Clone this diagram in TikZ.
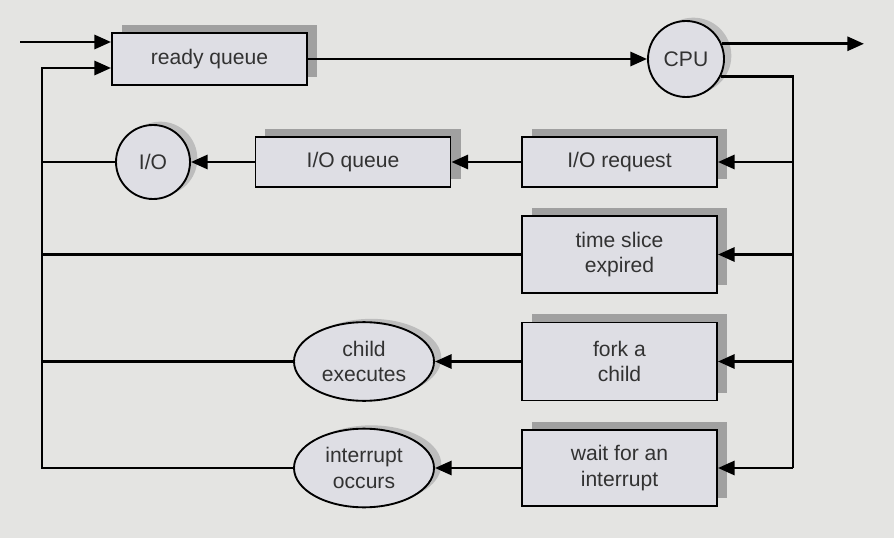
\documentclass[tikz,border=0pt]{standalone}
\usepackage{fontspec}
\setmainfont{Liberation Sans}
\usetikzlibrary{arrows.meta,shapes.geometric,shadows}
\definecolor{bgcol}{RGB}{228,228,226}
\definecolor{boxcol}{RGB}{222,222,228}
\definecolor{shadecol}{RGB}{160,160,160}
\definecolor{textcol}{RGB}{50,50,50}
\tikzset{
  arr/.style={line width=2.5pt,-{Triangle[length=0.5cm,width=0.42cm]}},
  bus/.style={line width=2.5pt},
  queuebox/.style={draw,line width=1.6pt,fill=boxcol,text=textcol,minimum width=5.85cm,
    align=center,drop shadow={shadow xshift=0.3cm,shadow yshift=0.24cm,fill=shadecol,opacity=1}},
  resource/.style={draw,circle,line width=1.6pt,fill=boxcol,text=textcol,inner sep=0pt,
    drop shadow={shadow xshift=0.22cm,shadow yshift=0.1cm,fill=shadecol!70,opacity=1}},
  event/.style={draw,ellipse,line width=1.6pt,fill=boxcol,text=textcol,inner sep=0pt,
    minimum width=4.2cm,minimum height=2.36cm,align=center,
    drop shadow={shadow xshift=0.22cm,shadow yshift=0.1cm,fill=shadecol!70,opacity=1}}
}
\begin{document}
\begin{tikzpicture}[x=0.03cm,y=-0.03cm,font=\fontsize{18}{22}\selectfont]
  \fill[bgcol] (0,0) rectangle (894,538);
  \useasboundingbox (0,0) rectangle (894,538);
  % queues and servers
  \node[queuebox,minimum height=1.56cm] (rq) at (209.5,59) {ready queue};
  \node[resource,minimum size=2.28cm] (cpu) at (686,59) {CPU};
  \node[queuebox,minimum height=1.5cm] (ioreq) at (619.5,162) {I/O request};
  \node[queuebox,minimum height=1.5cm] (ioq) at (353,162) {I/O queue};
  \node[resource,minimum size=2.22cm] (io) at (153,162) {I/O};
  \node[queuebox,minimum height=2.31cm] (ts) at (619.5,254.5) {time slice\\expired};
  \node[queuebox,minimum height=2.34cm] (fork) at (619.5,361.5) {fork a\\child};
  \node[event] (child) at (364,361.5) {child\\executes};
  \node[queuebox,minimum height=2.28cm] (wait) at (619.5,468) {wait for an\\interrupt};
  \node[event] (intr) at (364,468) {interrupt\\occurs};
  % bus corners
  \coordinate (in) at (20,42);
  \coordinate (out) at (864,45);
  \coordinate (ltop) at (42,68);
  \coordinate (lbot) at (42,468);
  \coordinate (rbot) at (793,468);
  % connectors
  \draw[arr] (in) -- (in -| rq.west);
  \draw[arr] (rq.east) -- (cpu.west);
  \draw[arr] (cpu.23) -- (cpu.23 -| out);
  \draw[bus] (cpu.-27) -- (cpu.-27 -| rbot) -- (rbot);
  \foreach \n in {ioreq,ts,fork,wait}
    \draw[arr] (\n.east -| rbot) -- (\n.east);
  \draw[arr] (ioreq) -- (ioq);
  \draw[arr] (ioq) -- (io);
  \draw[arr] (fork) -- (child);
  \draw[arr] (wait) -- (intr);
  \foreach \n in {io,ts,child}
    \draw[bus] (\n.west) -- (\n.west -| lbot);
  \draw[arr] (intr.west) -- (lbot) -- (ltop) -- (ltop -| rq.west);
\end{tikzpicture}
\end{document}
